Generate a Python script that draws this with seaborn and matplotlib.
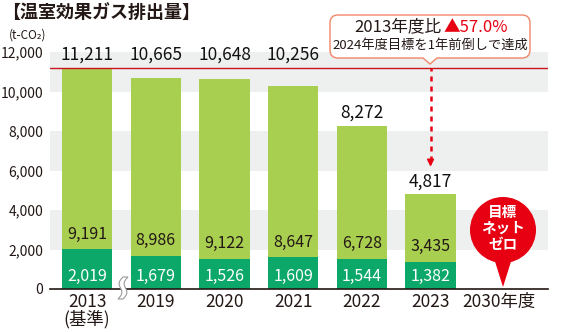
import numpy as np
import pandas as pd
import matplotlib
matplotlib.use("Agg")
import matplotlib.pyplot as plt
import seaborn as sns
from matplotlib.path import Path
from matplotlib.patches import PathPatch, Ellipse, Polygon
import matplotlib.transforms as mtransforms

# ---- data ----
years = ["2013\n(基準)", "2019", "2020", "2021", "2022", "2023", "2030年度"]
totals = [11211, 10665, 10648, 10256, 8272, 4817, np.nan]
scope_light = [9191, 8986, 9122, 8647, 6728, 3435, np.nan]
scope_dark = [2019, 1679, 1526, 1609, 1544, 1382, np.nan]
yticks = [0, 2000, 4000, 6000, 8000, 10000, 12000]
baseline_value = 11211
title = "【温室効果ガス排出量】"
unit = "(t-CO₂)"
callout_a = "2013年度比"
callout_b = "▲57.0%"
callout_c = "2024年度目標を1年前倒しで達成"
goal_text = "目標\nネット\nゼロ"

LIGHT = "#a9cf51"
DARK = "#0ca86a"
RED = "#e60012"
TXT = "#231815"
BAND = "#eeefef"

sns.set_theme(style="white")
plt.rcParams["font.family"] = ["Noto Sans CJK JP", "DejaVu Sans"]

W, H = 569, 332
fig = plt.figure(figsize=(W / 100, H / 100), dpi=100)
ax = fig.add_axes([50 / W, 1 - 289 / H, 498 / W, 237 / H])

df = pd.DataFrame({"year": years, "total": totals, "light": scope_light, "dark": scope_dark})
sns.barplot(data=df, x="year", y="total", order=years, color=LIGHT, saturation=1,
            width=0.73, errorbar=None, linewidth=0, ax=ax, zorder=2)
sns.barplot(data=df, x="year", y="dark", order=years, color=DARK, saturation=1,
            width=0.73, errorbar=None, linewidth=0, ax=ax, zorder=3)

ax.set_xlim(-0.54, 6.71)
ax.set_ylim(0, 12000)
for lo in (2000, 6000, 10000):
    ax.axhspan(lo, lo + 2000, color=BAND, zorder=0, lw=0)

ax.axhline(baseline_value, color="#c8161d", lw=1.0, zorder=4)

for s in ("left", "right", "top"):
    ax.spines[s].set_visible(False)
ax.spines["bottom"].set_color(TXT)
ax.spines["bottom"].set_linewidth(1.2)
ax.spines["bottom"].set_zorder(5)

ax.set_yticks(yticks)
ax.set_yticklabels([f"{v:,}" for v in yticks])
ax.tick_params(axis="y", length=0, pad=5, labelsize=10, labelcolor=TXT)
ax.tick_params(axis="x", length=0, pad=3, labelsize=12.5, labelcolor=TXT)
for t in ax.get_xticklabels():
    t.set_linespacing(0.95)
ax.set_xlabel("")
ax.set_ylabel("")
ax.grid(False)

# labels
for i, (tot, lt, dk) in enumerate(zip(totals, scope_light, scope_dark)):
    if np.isnan(tot):
        continue
    ax.text(i, 620, f"{int(dk):,}", ha="center", va="center", color="white", fontsize=11.5, zorder=6)
    ax.text(i, dk + 760, f"{int(lt):,}", ha="center", va="center", color=TXT, fontsize=11.5, zorder=6)
    ytop = 11850 if tot > 10000 else tot + 640
    ax.text(i, ytop, f"{int(tot):,}", ha="center", va="center", color="#111111", fontsize=12.5,
            fontweight="normal", zorder=6, clip_on=False)

# dashed arrow from baseline to 2023
ax.vlines(5, 6500, baseline_value, colors=RED, linestyles=(0, (2, 2)), lw=1.8, zorder=4)
ax.annotate("", xy=(5, 6050), xytext=(5, 6650),
            arrowprops=dict(arrowstyle="-|>", color=RED, lw=1.2, mutation_scale=10))

# pixel transform (top-left origin)
pix = mtransforms.Affine2D().scale(1, -1).translate(0, H).scale(1 / W, 1 / H) + fig.transFigure

# title & unit
fig.text(2 / W, 1 - 13 / H, title, fontsize=13, fontweight="bold", color=TXT, va="center", ha="left")
fig.text(9 / W, 1 - 35 / H, unit, fontsize=8.5, color=TXT, va="center", ha="left")

# callout box
x0, x1, y0, y1, r, pt = 330, 530, 15, 58, 8, 430
verts = [(x0 + r, y0), (x1 - r, y0), (x1, y0), (x1, y0 + r), (x1, y1 - r), (x1, y1), (x1 - r, y1),
         (pt + 7, y1), (pt, y1 + 6), (pt - 7, y1), (x0 + r, y1), (x0, y1), (x0, y1 - r),
         (x0, y0 + r), (x0, y0), (x0 + r, y0), (x0 + r, y0)]
codes = [Path.MOVETO, Path.LINETO, Path.CURVE3, Path.CURVE3, Path.LINETO, Path.CURVE3, Path.CURVE3,
         Path.LINETO, Path.LINETO, Path.LINETO, Path.LINETO, Path.CURVE3, Path.CURVE3,
         Path.LINETO, Path.CURVE3, Path.CURVE3, Path.CLOSEPOLY]
fig.add_artist(PathPatch(Path(verts, codes), facecolor="white", edgecolor="#f0866a", lw=1.0,
                         transform=pix, zorder=10))
fig.text(441 / W, 1 - 27 / H, callout_a, fontsize=12, color=TXT, ha="right", va="center", zorder=11)
fig.text(444 / W, 1 - 27 / H, callout_b, fontsize=12, color=RED, ha="left", va="center", zorder=11)
fig.text(430 / W, 1 - 45 / H, callout_c, fontsize=9.5, color=TXT, ha="center", va="center", zorder=11)

# goal balloon
cx, cy, cr = 503, 230, 33
fig.add_artist(Ellipse((cx, cy), 2 * cr, 2 * cr, facecolor=RED, edgecolor="none", transform=pix, zorder=10))
fig.add_artist(Polygon([(cx - 11, cy + 22), (cx + 11, cy + 22), (cx, 287)], closed=True,
                       facecolor=RED, edgecolor="none", transform=pix, zorder=10))
fig.text(cx / W, 1 - 228 / H, goal_text, fontsize=10.5, fontweight="bold", color="white",
         ha="center", va="center", linespacing=1.0, zorder=11)

# axis break mark
t = np.linspace(0, 1, 20)
bx = 118 + 5 * t + 2.5 * np.sin(2 * np.pi * t)
by = 299 - 22 * t
left = list(zip(bx, by))
right = list(zip(bx + 5, by))[::-1]
fig.add_artist(Polygon(left + right, closed=True, facecolor="white", edgecolor="#9a9a9a", lw=0.8,
                       transform=pix, zorder=10))

fig.savefig("out.png", dpi=100)
